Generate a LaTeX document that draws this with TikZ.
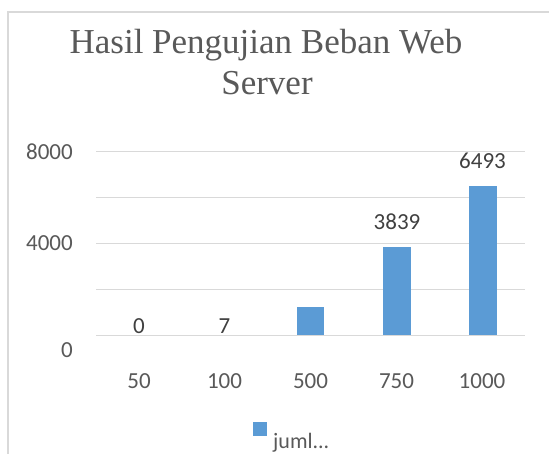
\documentclass[tikz,border=0pt]{standalone}
\usepackage{fontspec}
\setmainfont{Carlito}
\newfontfamily\titlefont{Liberation Serif}
\definecolor{gridc}{HTML}{D9D9D9}
\definecolor{barc}{HTML}{5B9BD5}
\definecolor{axtext}{HTML}{595959}
\definecolor{valtext}{HTML}{404040}
\begin{document}
\begin{tikzpicture}[x=1pt,y=-1pt,
  gridline/.style={draw=gridc,line width=1.5pt},
  bar/.style={fill=barc,draw=none},
  ylab/.style={anchor=east,inner sep=0pt,text=axtext,font=\fontsize{23}{27}\selectfont},
  xlab/.style={anchor=center,inner sep=0pt,text=axtext,font=\fontsize{23}{27}\selectfont},
  vallab/.style={anchor=center,inner sep=0pt,text=valtext,font=\fontsize{23}{27}\selectfont},
  titlestyle/.style={anchor=base,inner sep=0pt,text=axtext,font=\titlefont\fontsize{35}{41}\selectfont}]
\useasboundingbox (0,0) rectangle (549,453);
\clip (0,0) rectangle (549,453);
\fill[white] (0,0) rectangle (549,453);
\draw[draw=gridc,line width=2pt] (8,12) rectangle (600,500);
% title
\node[titlestyle] (title1) at (266,53) {Hasil Pengujian Beban Web};
\node[titlestyle] (title2) at (267,94) {Server};
% grid
\foreach \y in {151.3,197.3,243.3,289.3,335.3} \draw[gridline] (96,\y) -- (525,\y);
% y labels
\node[ylab] (y8) at (73,151.3) {8000};
\node[ylab] (y4) at (73,243.3) {4000};
\node[ylab] (y0) at (73,350) {0};
% bars
\fill[bar] (296.7,307) rectangle (324.2,334.5);
\fill[bar] (383,247) rectangle (410.5,334.5);
\fill[bar] (469,186) rectangle (496.5,334.5);
% value labels
\node[vallab] (v1) at (139,326) {0};
\node[vallab] (v2) at (224.5,326) {7};
\node[vallab] (v4) at (397,221.5) {3839};
\node[vallab] (v5) at (482.5,161) {6493};
% x labels
\node[xlab] (x1) at (139,381) {50};
\node[xlab] (x2) at (224.5,381) {100};
\node[xlab] (x3) at (310.5,381) {500};
\node[xlab] (x4) at (396.5,381) {750};
\node[xlab] (x5) at (482,381) {1000};
% legend
\fill[bar] (253.3,422.3) rectangle (266.7,435.7);
\node[anchor=base west,inner sep=0pt,text=axtext,font=\fontsize{22}{26}\selectfont] (leg) at (273,448) {juml...};
\end{tikzpicture}
\end{document}
